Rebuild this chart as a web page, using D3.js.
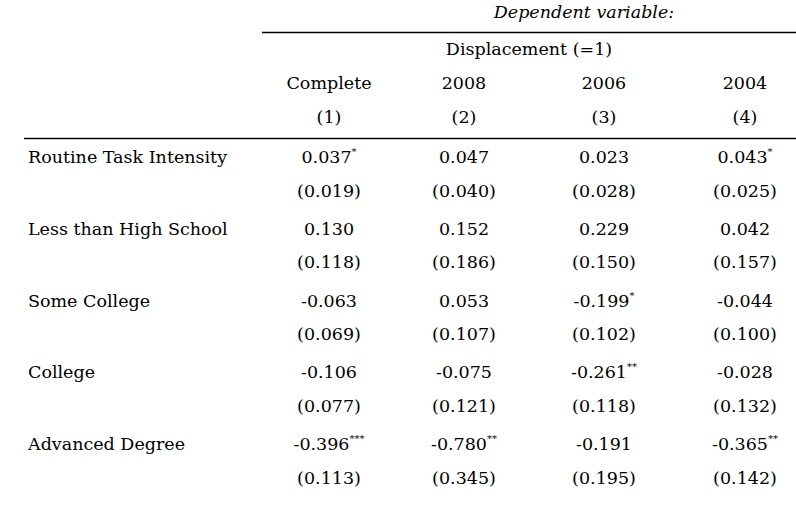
<!DOCTYPE html>
<html>
<head>
<meta charset="utf-8">
<script src="https://cdn.jsdelivr.net/npm/d3@7"></script>
<style>
  html, body { margin: 0; padding: 0; background: #fff; }
  svg { display: block; }
  text { font-family: "DejaVu Serif", serif; fill: #000; }
</style>
</head>
<body>
<svg id="chart" width="796" height="506"></svg>
<script>
// ---- Data ----
const depVarTitle = "Dependent variable:";
const depVarName = "Displacement (=1)";
const columnNames = ["Complete", "2008", "2006", "2004"];
const columnNumbers = ["(1)", "(2)", "(3)", "(4)"];
const variables = ["Routine Task Intensity", "Less than High School", "Some College", "College", "Advanced Degree"];
// coefficients [variable][column]
const coefficients = [
  ["0.037", "0.047", "0.023", "0.043"],
  ["0.130", "0.152", "0.229", "0.042"],
  ["-0.063", "0.053", "-0.199", "-0.044"],
  ["-0.106", "-0.075", "-0.261", "-0.028"],
  ["-0.396", "-0.780", "-0.191", "-0.365"]
];
const stars = [
  ["*", "", "", "*"],
  ["", "", "", ""],
  ["", "", "*", ""],
  ["", "", "**", ""],
  ["***", "**", "", "**"]
];
const standardErrors = [
  ["0.019", "0.040", "0.028", "0.025"],
  ["0.118", "0.186", "0.150", "0.157"],
  ["0.069", "0.107", "0.102", "0.100"],
  ["0.077", "0.121", "0.118", "0.132"],
  ["0.113", "0.345", "0.195", "0.142"]
];

// ---- Layout ----
const svg = d3.select("#chart");
const fontSize = 17.5;

const x = d3.scaleOrdinal().domain(columnNames).range([329, 464, 604, 745]);
const y = d3.scalePoint().domain(variables).range([157, 444]);
const seOffset = 33.5;

// Header
svg.append("text")
  .attr("x", 584).attr("y", 12)
  .attr("text-anchor", "middle").attr("dominant-baseline", "central")
  .style("font-style", "italic").style("font-size", fontSize + "px")
  .text(depVarTitle);

svg.append("line")
  .attr("x1", 262).attr("x2", 796).attr("y1", 32.5).attr("y2", 32.5)
  .attr("stroke", "#000").attr("stroke-width", 1.3);

svg.append("text")
  .attr("x", 529).attr("y", 49)
  .attr("text-anchor", "middle").attr("dominant-baseline", "central")
  .style("font-size", fontSize + "px")
  .text(depVarName);

svg.selectAll("text.colname").data(columnNames).join("text")
  .attr("class", "colname")
  .attr("x", d => x(d)).attr("y", 83)
  .attr("text-anchor", "middle").attr("dominant-baseline", "central")
  .style("font-size", fontSize + "px")
  .text(d => d);

svg.selectAll("text.colnum").data(columnNumbers).join("text")
  .attr("class", "colnum")
  .attr("x", (d, i) => x(columnNames[i])).attr("y", 117)
  .attr("text-anchor", "middle").attr("dominant-baseline", "central")
  .style("font-size", fontSize + "px")
  .text(d => d);

svg.append("line")
  .attr("x1", 24).attr("x2", 796).attr("y1", 138.5).attr("y2", 138.5)
  .attr("stroke", "#000").attr("stroke-width", 1.3);

// Row labels
svg.selectAll("text.rowlabel").data(variables).join("text")
  .attr("class", "rowlabel")
  .attr("x", 28).attr("y", d => y(d))
  .attr("dominant-baseline", "central")
  .style("font-size", fontSize + "px")
  .text(d => d);

// Cells
variables.forEach((v, r) => {
  columnNames.forEach((c, ci) => {
    const t = svg.append("text")
      .attr("x", x(c)).attr("y", y(v))
      .attr("text-anchor", "middle").attr("dominant-baseline", "central")
      .style("font-size", fontSize + "px");
    t.append("tspan").text(coefficients[r][ci]);
    if (stars[r][ci]) {
      t.append("tspan").attr("dy", -6).style("font-size", "10px").text(stars[r][ci]);
    }
    svg.append("text")
      .attr("x", x(c)).attr("y", y(v) + seOffset)
      .attr("text-anchor", "middle").attr("dominant-baseline", "central")
      .style("font-size", fontSize + "px")
      .text("(" + standardErrors[r][ci] + ")");
  });
});
</script>
</body>
</html>
